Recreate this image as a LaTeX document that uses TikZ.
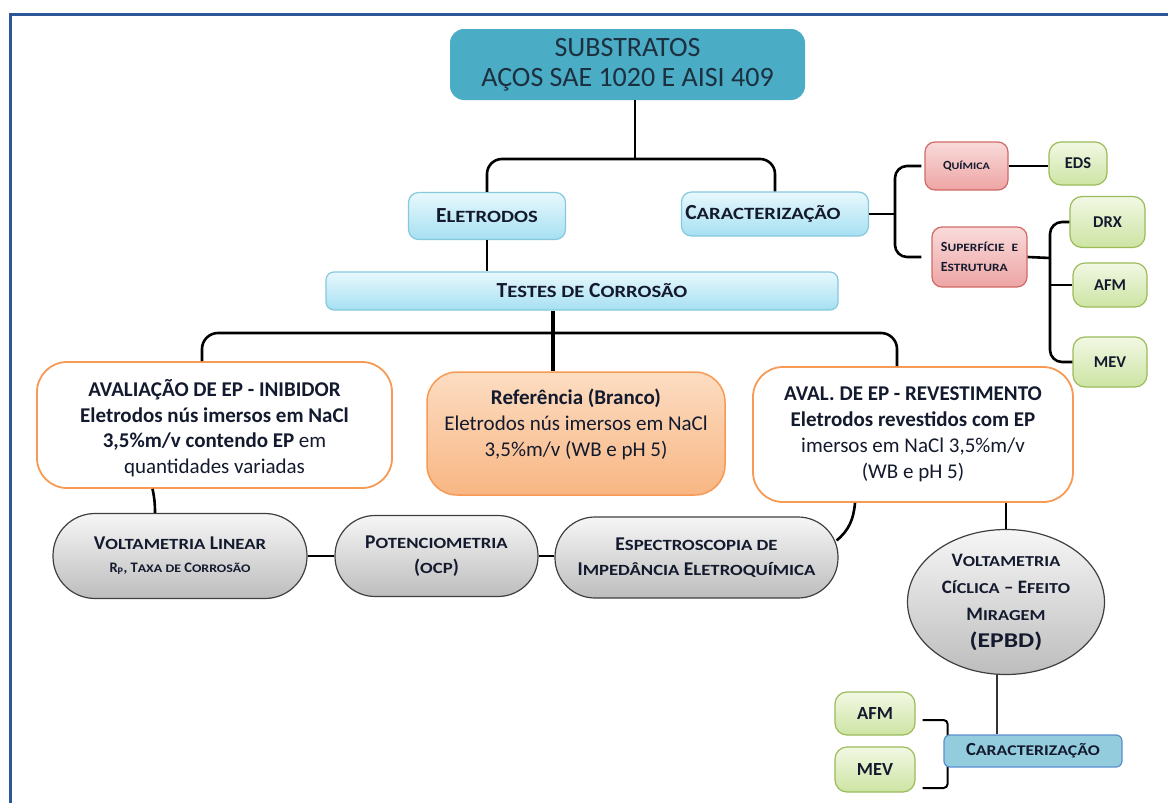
\documentclass[tikz,border=0pt]{standalone}
\usepackage{fontspec}
\usepackage{graphicx}
\setmainfont{Carlito}
\usetikzlibrary{shapes.geometric}

% synthetic small capitals: reduced, slightly widened capitals
\makeatletter
\newcommand\lowsc[1]{\scalebox{1.2}[1]{\fontsize{\fpeval{0.8*\f@size}}{\f@baselineskip}\selectfont #1}}
\makeatother

\definecolor{ink}{HTML}{141A2E}
\definecolor{frameblue}{HTML}{2B5797}
\definecolor{teal}{HTML}{4BACC6}
\definecolor{tealtext}{HTML}{1C3040}
\definecolor{bluetop}{HTML}{E8F8FD}
\definecolor{bluebot}{HTML}{A6E0F2}
\definecolor{blueline}{HTML}{86C8DD}
\definecolor{pinktop}{HTML}{F9DADA}
\definecolor{pinkbot}{HTML}{EDA5A4}
\definecolor{pinkline}{HTML}{D06A68}
\definecolor{greentop}{HTML}{F2F8E4}
\definecolor{greenbot}{HTML}{CDE4A3}
\definecolor{greenline}{HTML}{9BBB59}
\definecolor{orangeline}{HTML}{F79A55}
\definecolor{orangetop}{HTML}{FCDDC2}
\definecolor{orangebot}{HTML}{F8B683}
\definecolor{graytop}{HTML}{F6F6F6}
\definecolor{graybot}{HTML}{BDBDBD}
\definecolor{grayline}{HTML}{3F3F3F}
\definecolor{steelfill}{HTML}{93CDDD}
\definecolor{steelline}{HTML}{5A8FCF}

\begin{document}
\begin{tikzpicture}[x=1pt,y=-1pt,
  box/.style={rectangle, align=center, inner sep=0pt, text=ink},
  titlebox/.style={box, rounded corners=14pt, fill=teal, text=tealtext,
    font=\fontsize{28}{30}\selectfont},
  bluebox/.style={box, rounded corners=10pt, top color=bluetop, bottom color=bluebot,
    draw=blueline, line width=1.2pt, font=\fontsize{21.5}{24}\selectfont\bfseries},
  pinkbox/.style={box, rounded corners=10pt, top color=pinktop, bottom color=pinkbot,
    draw=pinkline, line width=1.2pt},
  greenbox/.style={box, rounded corners=12pt, top color=greentop, bottom color=greenbot,
    draw=greenline, line width=1.2pt, font=\fontsize{16.5}{19}\selectfont\bfseries},
  testbox/.style={box, rounded corners=30pt, fill=white, draw=orangeline, line width=1.8pt},
  refbox/.style={box, rounded corners=30pt, top color=orangetop, bottom color=orangebot,
    draw=orangeline, line width=1.5pt},
  methodbox/.style={box, top color=graytop, bottom color=graybot,
    draw=grayline, line width=1.2pt, font=\fontsize{19.5}{25}\selectfont\bfseries},
  conn/.style={draw=black, line width=2.6pt},
  thinconn/.style={draw=black!80, line width=1.5pt},
]
\useasboundingbox (0,0) rectangle (1168,803);

% page frame
\draw[frameblue, line width=3pt] (10,803) -- (10,14.5) -- (1168,14.5);

% top level
\node[titlebox, minimum width=355, minimum height=71] (title) at (627.5,64.5)
  {SUBSTRATOS\\AÇOS SAE 1020 E AISI 409};
\node[bluebox, minimum width=157, minimum height=47] (elet) at (487,216)
  {E\lowsc{LETRODOS}};
\node[bluebox, minimum width=187, minimum height=44] (carac) at (775,214)
  {\kern-24pt C\lowsc{ARACTERIZAÇÃO}};
\node[bluebox, rounded corners=8pt, minimum width=512, minimum height=38] (tests) at (582,291)
  {\kern20pt T\lowsc{ESTES DE} C\lowsc{ORROSÃO}};

\coordinate (j1) at (635,159);
\draw[conn] ([xshift=7.5pt]title.south) -- (j1);
\draw[conn, rounded corners=15pt] (elet.north) |- (j1) -| (carac.north);
\draw[conn] (elet.south) -- (elet.south |- tests.north);

% characterization branch
\node[pinkbox, minimum width=83, minimum height=48, font=\fontsize{12.5}{18}\selectfont\bfseries]
  (quim) at (966.5,166) {Q\lowsc{UÍMICA}};
\node[pinkbox, minimum width=95, minimum height=60, align=left,
  font=\fontsize{14}{20}\selectfont\bfseries]
  (sup) at (979.5,257) {S\lowsc{UPERFÍCIE}\hspace{7pt}\lowsc{E}\\E\lowsc{STRUTURA}};
\node[greenbox, minimum width=58, minimum height=43] (eds) at (1078,163.5) {EDS};
\node[greenbox, minimum width=75, minimum height=51] (drx) at (1107.5,222) {DRX};
\node[greenbox, minimum width=74, minimum height=44] (afm) at (1110,285) {AFM};
\node[greenbox, minimum width=74, minimum height=50] (mev) at (1110,362) {MEV};

\coordinate (cj) at (895,214);
\coordinate (sj) at (1050,258);
\draw[conn] (carac.east) -- (cj);
\draw[conn, rounded corners=12pt] ([xshift=-3pt]quim.west) -| (cj) |- ([xshift=-10pt]sup.west);
\draw[conn] (quim.east) -- (quim.east -| eds.west);
\draw[conn] (sup.east) -- (sj);
\draw[conn, rounded corners=12pt] (drx.west) -| (sj) |- (mev.west);
\draw[conn] (afm.west) -- (afm.west -| sj);

% corrosion tests
\node[testbox, minimum width=355, minimum height=126, font=\fontsize{21}{25.5}\selectfont]
  (inib) at (214.5,425)
  {\raisebox{-5pt}[\height][\depth]{\begin{tabular}{@{}c@{}}
   \textbf{AVALIAÇÃO DE EP - INIBIDOR}\\\textbf{Eletrodos nús imersos em NaCl}\\
   \textbf{3,5\%m/v contendo EP} em\\quantidades variadas\end{tabular}}};
\node[refbox, minimum width=298, minimum height=123, font=\fontsize{21}{26}\selectfont]
  (ref) at (576,433.5)
  {\raisebox{8pt}[\height][\depth]{\begin{tabular}{@{}c@{}}
   \textbf{Referência (Branco)}\\Eletrodos nús imersos em NaCl\\3,5\%m/v (WB e pH 5)\end{tabular}}};
\node[testbox, minimum width=320, minimum height=135, font=\fontsize{21}{26}\selectfont]
  (coat) at (913,434.5)
  {\textbf{AVAL. DE EP - REVESTIMENTO}\\\textbf{Eletrodos revestidos com EP}\\
   imersos em NaCl 3,5\%m/v\\(WB e pH 5)};

\coordinate (tj) at (553,333);
\draw[conn, line width=3.6pt] (tests.south -| tj) -- (tj |- ref.north);
\draw[conn, rounded corners=16pt] ([xshift=-12.5pt]inib.north) |- (tj) -| ([xshift=-16pt]coat.north);

% electrochemical methods
\node[methodbox, rounded corners=42pt, minimum width=254, minimum height=85] (lin) at (180,556)
  {V\lowsc{OLTAMETRIA} L\lowsc{INEAR}\\[-2pt]
   {\fontsize{14.5}{18}\selectfont R\textsubscript{P}, T\lowsc{AXA DE} C\lowsc{ORROSÃO}}};
\node[methodbox, rounded corners=40pt, minimum width=203, minimum height=81] (pot) at (436.5,556)
  {P\lowsc{OTENCIOMETRIA}\\(\lowsc{OCP})};
\node[methodbox, rounded corners=40pt, minimum width=283, minimum height=81] (eis) at (696.5,557.5)
  {E\lowsc{SPECTROSCOPIA DE}\\I\lowsc{MPEDÂNCIA} E\lowsc{LETROQUÍMICA}};
\node[methodbox, ellipse, minimum width=197, minimum height=145,
  font=\fontsize{19}{27}\selectfont\bfseries] (cyc) at (1006,602)
  {V\lowsc{OLTAMETRIA}\\C\lowsc{ÍCLICA} – E\lowsc{FEITO}\\M\lowsc{IRAGEM}\\
   \scalebox{1.22}[1]{\fontsize{21}{27}\selectfont(EPBD)}};

\draw[conn] ([xshift=-62pt]inib.south) to[bend left=6] ([xshift=-25pt]lin.north);
\draw[conn] (lin.east) -- (pot.west);
\draw[conn] (pot.east) -- (pot.east -| eis.west);
\draw[conn] ([xshift=-58pt]coat.south) to[out=-95,in=40] ([xshift=-2pt,yshift=17pt]eis.east);
\draw[conn] (cyc.north |- coat.south) -- (cyc.north);

% characterization of the coating
\node[greenbox, minimum width=80, minimum height=43, font=\fontsize{18.5}{20}\selectfont\bfseries]
  (afm2) at (875,713.5) {AFM};
\node[greenbox, minimum width=80, minimum height=45, font=\fontsize{18.5}{20}\selectfont\bfseries]
  (mev2) at (875,769.5) {MEV};
\draw[black, line width=2pt, rounded corners=4pt]
  ([xshift=7pt,yshift=-6.5pt]afm2.east) -- ++(25,0) -- ++(0,68) -- ++(-25,0);
\node[box, rounded corners=6pt, fill=steelfill, draw=steelline, line width=1.2pt,
  minimum width=178, minimum height=32, font=\fontsize{18.5}{20}\selectfont\bfseries]
  (car2) at (1033,751) {C\lowsc{ARACTERIZAÇÃO}};
\draw[thinconn] ([xshift=-9pt]cyc.south) -- ([xshift=-9pt]cyc.south |- car2.north);
\end{tikzpicture}
\end{document}
